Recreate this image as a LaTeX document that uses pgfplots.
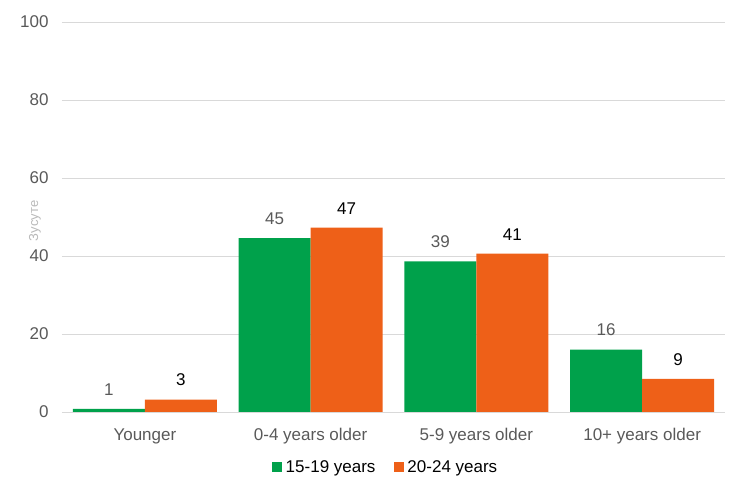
\documentclass[border=0pt]{standalone}
\usepackage{pgfplots}
\pgfplotsset{compat=1.18}
\usepackage{fontspec}
\setmainfont{Liberation Sans}
\definecolor{grn}{RGB}{0,161,75}
\definecolor{orng}{RGB}{238,96,24}
\definecolor{txtgray}{RGB}{89,89,89}
\definecolor{gridgray}{RGB}{217,217,217}
\newcommand{\lbl}{\fontsize{17bp}{20bp}\selectfont}
\begin{document}
\begin{tikzpicture}
\begin{axis}[
    scale only axis,
    width=663bp, height=390bp,
    ybar=0pt, bar width=72bp,
    xmin=-0.5, xmax=3.5,
    ymin=0, ymax=100,
    ytick={0,20,...,100},
    xtick=data,
    xticklabels={Younger, 0-4 years older, 5-9 years older, 10+ years older},
    ymajorgrids,
    grid style={gridgray, line width=0.8pt},
    axis x line*=bottom,
    axis y line*=left,
    y axis line style={draw=none},
    x axis line style={gridgray, line width=0.8pt, -},
    major tick length=0pt,
    tick label style={txtgray, font=\lbl},
    /pgf/number format/assume math mode=true,
    yticklabel style={xshift=-10bp},
    xticklabel style={yshift=-13bp},
    ylabel={Зусуте},
    ylabel style={at={(rel axis cs:0,0.49)}, anchor=center, yshift=27bp,
        font=\fontsize{13bp}{15bp}\selectfont, color=gray!55},
    nodes near coords={\pgfmathprintnumber[fixed, precision=0]{\pgfplotspointmeta}},
    nodes near coords style={font=\lbl, anchor=south, yshift=10bp},
    legend style={at={(0.5,-0.141)}, anchor=center, xshift=-8bp, draw=none, legend columns=-1,
        font=\lbl, /tikz/every even column/.append style={column sep=16bp}},
    legend image code/.code={\fill[#1] (2bp,-5bp) rectangle (12bp,5bp); \path (14bp,0bp);},
]
\addplot[draw=none, fill=grn, nodes near coords style={txtgray}] coordinates {
    (0,0.8) (1,44.6) (2,38.6) (3,16.0)};
\addplot[draw=none, fill=orng, nodes near coords style={black}] coordinates {
    (0,3.2) (1,47.3) (2,40.6) (3,8.5)};
\legend{15-19 years, 20-24 years}
\coordinate (bl) at (rel axis cs:0,0);
\coordinate (tr) at (rel axis cs:1,1);
\end{axis}
\path ([shift={(-62bp,-66bp)}]bl) rectangle ([shift={(8bp,22bp)}]tr);
\end{tikzpicture}
\end{document}
